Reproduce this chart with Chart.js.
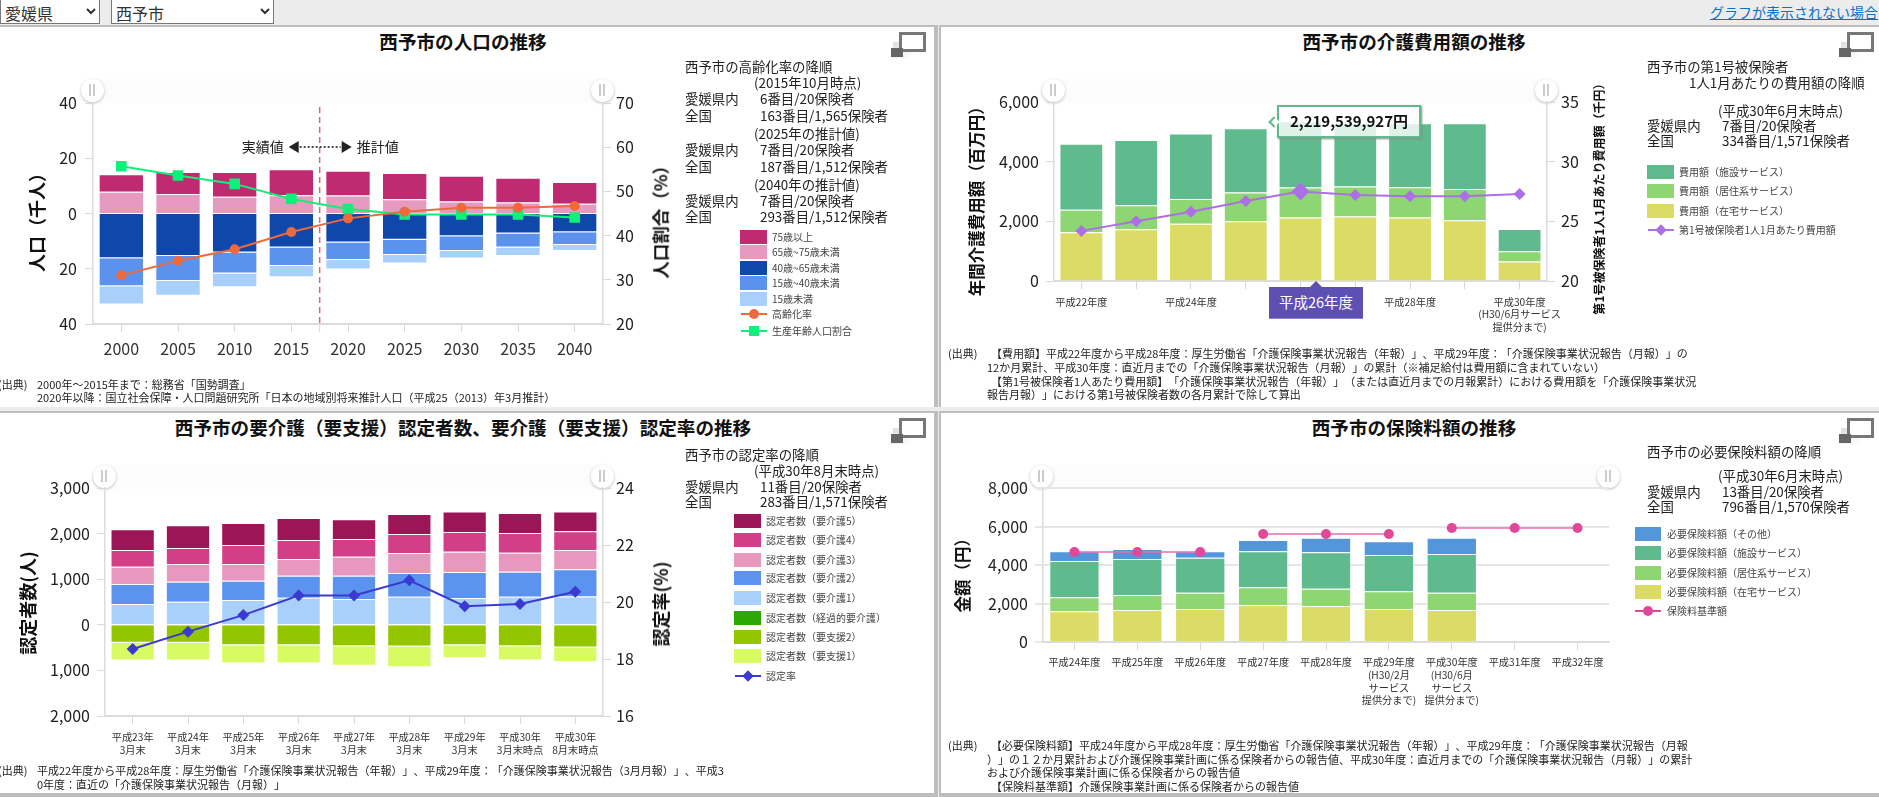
<!DOCTYPE html>
<html lang="ja">
<head>
<meta charset="utf-8">
<title>西予市</title>
<script src="https://cdn.jsdelivr.net/npm/chart.js@4"></script>
<style>
  html, body { margin: 0; padding: 0; background: #ececec; }
  body { position: relative; width: 1879px; height: 797px; overflow: hidden; color: #222; text-spacing-trim: space-all;
         font-family: "Noto Sans CJK JP", "Noto Sans", sans-serif; }
  .panel { position: absolute; background: #fff; border: 0 solid #bdbdbd; box-sizing: border-box; }
  .t { position: absolute; white-space: nowrap; line-height: 1; }
  canvas { position: absolute; }
  select { position: absolute; top: -1px; height: 25px; font: 16px "Noto Sans CJK JP", sans-serif; background: #fff;
           border: 1px solid #777; padding: 0; color: #333; }
</style>
</head>
<body>
<select style="left:0;width:100px"><option>愛媛県</option></select>
<select style="left:111px;width:163px"><option>西予市</option></select>
<script>
// chart 1: population
const popYears = ['2000', '2005', '2010', '2015', '2020', '2025', '2030', '2035', '2040'];
const pop75 = [6.3, 7.9, 8.9, 9.4, 9.0, 9.5, 9.4, 8.9, 7.9];
const pop65 = [7.9, 7.1, 6.1, 6.6, 6.5, 5.2, 4.3, 4.0, 3.5];
const pop40 = [16.2, 15.4, 14.1, 12.3, 10.5, 9.5, 8.2, 7.2, 6.8];
const pop15 = [10.1, 9.0, 7.6, 6.7, 6.3, 5.5, 5.4, 5.1, 4.6];
const pop0 = [6.6, 5.4, 5.0, 4.1, 3.5, 3.1, 2.7, 3.1, 2.2];
const agingRate = [31.0, 34.3, 36.9, 40.8, 43.9, 45.4, 46.3, 46.3, 46.7];
const workingRate = [55.7, 53.6, 51.7, 48.3, 46.0, 44.8, 44.8, 44.8, 44.1];

// chart 2: care cost
const costYears = ['平成22年度', '平成23年度', '平成24年度', '平成25年度', '平成26年度', '平成27年度', '平成28年度', '平成29年度',
  ['平成30年度', '(H30/6月サービス', '提供分まで)']];
const costHome = [1635, 1735, 1915, 2005, 2130, 2160, 2130, 2040, 650];
const costResidential = [750, 805, 830, 965, 1005, 1010, 1015, 1040, 350];
const costFacility = [2215, 2185, 2195, 2150, 2220, 2130, 2140, 2205, 745];
const costPerPerson = [24.2, 25.0, 25.8, 26.7, 27.5, 27.2, 27.1, 27.1, 27.3];

// chart 3: certification
const certYears = [['平成23年', '3月末'], ['平成24年', '3月末'], ['平成25年', '3月末'], ['平成26年', '3月末'], ['平成27年', '3月末'],
  ['平成28年', '3月末'], ['平成29年', '3月末'], ['平成30年', '3月末時点'], ['平成30年', '8月末時点']];
const care5 = [454, 498, 483, 483, 432, 439, 447, 439, 433];
const care4 = [366, 352, 418, 418, 388, 418, 433, 433, 410];
const care3 = [381, 388, 366, 366, 418, 440, 447, 417, 425];
const care2 = [440, 440, 425, 484, 513, 520, 571, 550, 593];
const care1 = [454, 505, 542, 593, 564, 615, 586, 615, 623];
const careTransitional = [0, 0, 0, 0, 0, 0, 0, 0, 0];
const support2 = [394, 394, 446, 446, 468, 476, 446, 468, 498];
const support1 = [387, 387, 402, 402, 432, 453, 290, 313, 320];
const certRate = [18.35, 18.96, 19.54, 20.23, 20.23, 20.76, 19.85, 19.93, 20.36];

// chart 4: premium
const premYears = ['平成24年度', '平成25年度', '平成26年度', '平成27年度', '平成28年度',
  ['平成29年度', '(H30/2月', 'サービス', '提供分まで)'], ['平成30年度', '(H30/6月', 'サービス', '提供分まで)'], '平成31年度', '平成32年度'];
const premHome = [1593, 1662, 1714, 1922, 1870, 1714, 1662, null, null];
const premResidential = [727, 780, 849, 918, 900, 918, 901, null, null];
const premFacility = [1888, 1870, 1818, 1870, 1888, 1887, 2008, null, null];
const premOther = [502, 519, 329, 589, 762, 710, 849, null, null];
const premBase = [4675, 4675, 4675, 5610, 5610, 5610, 5922, 5922, 5922];

const C = {
  c75: '#c02a70', c65: '#e69abf', c40: '#1047ab', c15: '#5b92ee', c0: '#a9d0fa', orange: '#ee6a3c', mint: '#0ff07a',
  facility: '#5fbb8e', residential: '#8dd672', home: '#dbdc65', purple: '#ad6fe8',
  k5: '#9c1556', k4: '#d33e88', k3: '#e897bf', k2: '#5b93ee', k1: '#a9d0fa', trans: '#2ca800', s2: '#94c600', s1: '#d8fb64', blue: '#3a3ad0',
  other: '#5496da', pink: '#e0489a'
};

Chart.defaults.font.family = '"Noto Sans CJK JP", "Noto Sans", sans-serif';
Chart.defaults.color = '#222';
Chart.defaults.animation = false;

// helpers for the page furniture
function el(css, cls) {
  const d = document.createElement('div');
  if (cls) d.className = cls;
  d.style.cssText = css;
  document.body.appendChild(d);
  return d;
}
function t(x, y, str, size, extra) {
  const d = el(`left:${x}px;top:${y - size / 2}px;font-size:${size}px;` + (extra || ''), 't');
  d.textContent = str;
  return d;
}
function title(x, y, str) { t(x, y, str, 18.6, 'font-weight:700;color:#111;transform:translateX(-50%);'); }
function vt(x, y, str, size) {
  t(x, y, str, size, 'font-weight:700;color:#111;transform:translate(-50%,0) rotate(-90deg);transform-origin:50% 50%;');
}
function icon(x, y) {
  el(`position:absolute;left:${x + 2}px;top:${y + 10}px;width:32px;height:16px;background:linear-gradient(135deg,#ddd,#fff 70%);`);
  el(`position:absolute;left:${x + 8}px;top:${y}px;width:27px;height:20px;box-sizing:border-box;border:3.5px solid #777;background:#fff;`);
  el(`position:absolute;left:${x}px;top:${y + 16}px;width:12px;height:9px;background:#666;`);
}
function handles(left, right, y) {
  el(`position:absolute;left:${left}px;top:${y - 11}px;width:${right - left}px;height:24px;background:#fcfcfc;`);
  [left, right].forEach(cx => {
    el(`position:absolute;left:${cx - 11.5}px;top:${y - 11.5}px;width:23px;height:23px;border-radius:50%;background:#fff;box-shadow:0 1px 3px #bbb;`);
    el(`position:absolute;left:${cx - 3}px;top:${y - 6}px;width:2px;height:12px;background:#ccc;`);
    el(`position:absolute;left:${cx + 1}px;top:${y - 6}px;width:2px;height:12px;background:#ccc;`);
  });
}
function swatch(x, y, w, color) {
  el(`position:absolute;left:${x}px;top:${y - 7}px;width:${w}px;height:14px;background:${color};`);
}
function lineSym(x, y, w, color, kind, r) {
  el(`position:absolute;left:${x}px;top:${y - 1}px;width:${w}px;height:2px;background:${color};`);
  let css = `position:absolute;left:${x + w / 2 - r}px;top:${y - r}px;width:${2 * r}px;height:${2 * r}px;background:${color};`;
  if (kind === 'circle') css += 'border-radius:50%;';
  if (kind === 'diamond') css += 'transform:rotate(45deg);';
  el(css);
}
function label(x, y, str) { t(x, y, str, 10, 'color:#444;'); }

function baseOptions(pad) {
  return {
    responsive: false,
    layout: { padding: pad },
    plugins: { legend: { display: false }, tooltip: { enabled: false } },
    interaction: { mode: null }
  };
}
function fixed(size) { return { afterFit: s => { if (s.isHorizontal()) s.height = size; else s.width = size; } }; }
function xScale(fontSize, padding, height, lineHeight) {
  return Object.assign({
    stacked: true,
    border: { color: '#dcdcdc', width: 2 },
    grid: { drawOnChartArea: false, offset: false, tickLength: 8, color: '#d8d8d8' },
    ticks: { autoSkip: false, maxRotation: 0, font: { size: fontSize, lineHeight: lineHeight || 1.2 }, padding: padding, color: '#333' }
  }, fixed(height));
}
function yScale(pos, min, max, step, padding, width, extra) {
  return Object.assign({
    position: pos, min: min, max: max,
    border: { color: '#dcdcdc', width: 1.5 },
    grid: { drawOnChartArea: false, tickLength: 8, color: '#d8d8d8' },
    ticks: { stepSize: step, padding: padding, font: { size: 16 }, callback: v => Math.abs(v).toLocaleString('en-US') }
  }, fixed(width), extra || {});
}
function bar(lbl, color, data) {
  return { type: 'bar', label: lbl, data: data, backgroundColor: color, borderColor: 'rgba(255,255,255,.55)', borderWidth: 1,
    barPercentage: 0.8, categoryPercentage: 1, stack: 's', order: 2 };
}
function line(lbl, color, data, style, radius, width) {
  return { type: 'line', label: lbl, data: data, yAxisID: 'y1', borderColor: color, backgroundColor: color, borderWidth: width || 2,
    pointStyle: style, pointRadius: radius, pointBorderWidth: 0, tension: 0, order: 1 };
}
function canvas(x, y, w, h) {
  const c = document.createElement('canvas');
  c.width = w; c.height = h;
  c.style.left = x + 'px'; c.style.top = y + 'px';
  document.body.appendChild(c);
  return c;
}

// panels
el('left:-4px;top:25px;width:942px;height:382px;border-width:2px 4px 0 0;', 'panel');
el('left:939px;top:25px;width:944px;height:382px;border-width:2px 0 0 2px;', 'panel');
el('left:-4px;top:411px;width:942px;height:386px;border-width:2px 4px 4px 0;', 'panel');
el('left:939px;top:411px;width:944px;height:386px;border-width:2px 0 4px 2px;', 'panel');

// header
t(1710, 12, 'グラフが表示されない場合', 14, 'color:#0b6fc8;text-decoration:underline;');

// chart 1
handles(92, 602, 90);
const splitLine = {
  id: 'splitLine',
  afterDatasetsDraw(chart) {
    const { ctx, scales, chartArea } = chart;
    const x = (scales.x.getPixelForValue(3) + scales.x.getPixelForValue(4)) / 2;
    const ay = chartArea.top + 44;
    ctx.save();
    ctx.strokeStyle = '#d8d8d8'; ctx.lineWidth = 1;
    ctx.beginPath(); ctx.moveTo(x, chartArea.bottom); ctx.lineTo(x, chartArea.bottom + 8); ctx.stroke();
    ctx.strokeStyle = '#d9687f'; ctx.lineWidth = 1.5; ctx.setLineDash([6, 4]);
    ctx.beginPath(); ctx.moveTo(x, chartArea.top + 4); ctx.lineTo(x, chartArea.bottom); ctx.stroke();
    ctx.strokeStyle = '#111'; ctx.lineWidth = 1.5; ctx.setLineDash([2, 2]);
    ctx.beginPath(); ctx.moveTo(x - 20, ay); ctx.lineTo(x + 21, ay); ctx.stroke();
    ctx.fillStyle = '#222';
    ctx.beginPath(); ctx.moveTo(x - 31, ay); ctx.lineTo(x - 21, ay - 6); ctx.lineTo(x - 21, ay + 6); ctx.fill();
    ctx.beginPath(); ctx.moveTo(x + 32, ay); ctx.lineTo(x + 22, ay - 6); ctx.lineTo(x + 22, ay + 6); ctx.fill();
    ctx.font = '14px "Noto Sans CJK JP"'; ctx.textBaseline = 'middle';
    ctx.textAlign = 'right'; ctx.fillText('実績値', x - 36, ay);
    ctx.textAlign = 'left'; ctx.fillText('推計値', x + 37, ay);
    ctx.restore();
  }
};
new Chart(canvas(0, 60, 700, 345), {
  data: {
    labels: popYears,
    datasets: [
      bar('65歳~75歳未満', C.c65, pop65),
      bar('75歳以上', C.c75, pop75),
      bar('40歳~65歳未満', C.c40, pop40.map(v => -v)),
      bar('15歳~40歳未満', C.c15, pop15.map(v => -v)),
      bar('15歳未満', C.c0, pop0.map(v => -v)),
      line('高齢化率', C.orange, agingRate, 'circle', 5),
      line('生産年齢人口割合', C.mint, workingRate, 'rect', 7.5)
    ]
  },
  options: Object.assign(baseOptions({ top: 43 }), {
    scales: {
      x: xScale(16, 7, 81),
      y: yScale('left', -40, 40, 20, 8, 93, { stacked: true }),
      y1: yScale('right', 20, 70, 10, 5, 97)
    }
  }),
  plugins: [splitLine]
});
title(463, 41, '西予市の人口の推移');
icon(891, 32);
vt(36, 218, '人口（千人）', 18);
vt(660, 218, '人口割合（%）', 17.5);
[[685, 67, '西予市の高齢化率の降順'], [754, 83, '(2015年10月時点)'],
 [685, 99, '愛媛県内'], [760, 99, '6番目/20保険者'], [685, 116, '全国'], [760, 116, '163番目/1,565保険者'], [754, 134, '(2025年の推計値)'],
 [685, 150, '愛媛県内'], [760, 150, '7番目/20保険者'], [685, 167, '全国'], [760, 167, '187番目/1,512保険者'], [754, 185, '(2040年の推計値)'],
 [685, 201, '愛媛県内'], [760, 201, '7番目/20保険者'], [685, 217, '全国'], [760, 217, '293番目/1,512保険者']
].forEach(r => t(r[0], r[1], r[2], 13.4));
[['75歳以上', C.c75, 237], ['65歳~75歳未満', C.c65, 252], ['40歳~65歳未満', C.c40, 268], ['15歳~40歳未満', C.c15, 283], ['15歳未満', C.c0, 299]
].forEach(r => { swatch(740, r[2], 27, r[1]); label(772, r[2], r[0]); });
lineSym(741, 314, 26, C.orange, 'circle', 5); label(772, 314, '高齢化率');
lineSym(741, 331, 26, C.mint, 'rect', 5); label(772, 331, '生産年齢人口割合');
t(-2, 384, '(出典)', 11); t(37, 384, '2000年～2015年まで：総務省「国勢調査」', 11);
t(37, 397, '2020年以降：国立社会保障・人口問題研究所「日本の地域別将来推計人口（平成25（2013）年3月推計）', 11);

// chart 2
handles(1053, 1546, 90);
const costX = xScale(10.2, 6.5, 124, 1.25);
costX.ticks.callback = function (v, i) { return i % 2 === 0 && i !== 4 ? this.getLabelForValue(v) : ''; };
new Chart(canvas(941, 60, 760, 345), {
  data: {
    labels: costYears,
    datasets: [
      bar('費用額（在宅サービス）', C.home, costHome),
      bar('費用額（居住系サービス）', C.residential, costResidential),
      bar('費用額（施設サービス）', C.facility, costFacility),
      line('第1号被保険者1人1月あたり費用額', C.purple, costPerPerson, 'rectRot', ctx => ctx.dataIndex === 4 ? 9 : 6)
    ]
  },
  options: Object.assign(baseOptions({ top: 42 }), {
    scales: {
      x: costX,
      y: yScale('left', 0, 6000, 2000, 7, 113, { stacked: true }),
      y1: yScale('right', 20, 35, 5, 6, 154)
    }
  })
});
title(1414, 41, '西予市の介護費用額の推移');
icon(1839, 32);
vt(976, 197, '年間介護費用額（百万円）', 16.5);
vt(1599, 196, '第1号被保険者1人1月あたり費用額（千円）', 12);
[[1647, 67, '西予市の第1号被保険者'], [1689, 83, '1人1月あたりの費用額の降順'], [1718, 111, '(平成30年6月末時点)'],
 [1647, 126, '愛媛県内'], [1722, 126, '7番目/20保険者'], [1647, 141, '全国'], [1722, 141, '334番目/1,571保険者']
].forEach(r => t(r[0], r[1], r[2], 13.4));
[['費用額（施設サービス）', C.facility, 172], ['費用額（居住系サービス）', C.residential, 191], ['費用額（在宅サービス）', C.home, 211]
].forEach(r => { swatch(1647, r[2], 27, r[1]); label(1679, r[2], r[0]); });
lineSym(1648, 230, 26, C.purple, 'diamond', 4); label(1679, 230, '第1号被保険者1人1月あたり費用額');
// pinned tooltip and axis label of the selected year
const tip = el('position:absolute;left:1277px;top:105px;width:144px;height:33px;box-sizing:border-box;border:2px solid #5fbb8e;background:rgba(255,255,255,.8);box-shadow:1px 1px 2px #888;text-align:center;line-height:28px;font-size:15px;font-weight:700;color:#111;');
tip.textContent = '2,219,539,927円';
el('position:absolute;left:1270px;top:118px;width:8px;height:8px;transform:rotate(45deg);box-sizing:border-box;border:2px solid #5fbb8e;border-width:0 0 2px 2px;background:#fff;');
el('position:absolute;left:1310px;top:281px;width:0;height:0;border:6px solid transparent;border-top:0;border-bottom:6px solid #5e4fb3;');
const yearBox = el('position:absolute;left:1269px;top:287px;width:94px;height:32px;box-sizing:border-box;background:#5e4fb3;border-bottom:1px solid #8a7fd0;color:#fff;text-align:center;line-height:30px;font-size:14.5px;');
yearBox.textContent = '平成26年度';
t(948, 353, '(出典)', 11);
t(991, 353, '【費用額】平成22年度から平成28年度：厚生労働省「介護保険事業状況報告（年報）」、平成29年度：「介護保険事業状況報告（月報）」の', 11);
t(987, 367, '12か月累計、平成30年度：直近月までの「介護保険事業状況報告（月報）」の累計（※補足給付は費用額に含まれていない）', 11);
t(991, 381, '【第1号被保険者1人あたり費用額】「介護保険事業状況報告（年報）」（または直近月までの月報累計）における費用額を「介護保険事業状況', 11);
t(987, 394, '報告月報）」における第1号被保険者数の各月累計で除して算出', 11);

// chart 3
handles(104, 602, 476);
new Chart(canvas(0, 446, 700, 345), {
  data: {
    labels: certYears,
    datasets: [
      bar('認定者数（要介護1）', C.k1, care1),
      bar('認定者数（要介護2）', C.k2, care2),
      bar('認定者数（要介護3）', C.k3, care3),
      bar('認定者数（要介護4）', C.k4, care4),
      bar('認定者数（要介護5）', C.k5, care5),
      bar('認定者数（経過的要介護）', C.trans, careTransitional.map(v => -v)),
      bar('認定者数（要支援2）', C.s2, support2.map(v => -v)),
      bar('認定者数（要支援1）', C.s1, support1.map(v => -v)),
      line('認定率', C.blue, certRate, 'rectRot', 6)
    ]
  },
  options: Object.assign(baseOptions({ top: 42 }), {
    scales: {
      x: xScale(10.2, 6.4, 75, 1.3),
      y: yScale('left', -2000, 3000, 1000, 7, 105, { stacked: true }),
      y1: yScale('right', 16, 24, 2, 5, 97)
    }
  })
});
title(463, 427, '西予市の要介護（要支援）認定者数、要介護（要支援）認定率の推移');
icon(891, 418);
vt(27, 603, '認定者数(人)', 18);
vt(660, 604, '認定率(%)', 18);
[[685, 455, '西予市の認定率の降順'], [754, 471, '(平成30年8月末時点)'],
 [685, 487, '愛媛県内'], [760, 487, '11番目/20保険者'], [685, 502, '全国'], [760, 502, '283番目/1,571保険者']
].forEach(r => t(r[0], r[1], r[2], 13.4));
[['認定者数（要介護5）', C.k5, 521], ['認定者数（要介護4）', C.k4, 540], ['認定者数（要介護3）', C.k3, 560], ['認定者数（要介護2）', C.k2, 578],
 ['認定者数（要介護1）', C.k1, 598], ['認定者数（経過的要介護）', C.trans, 618], ['認定者数（要支援2）', C.s2, 637], ['認定者数（要支援1）', C.s1, 656]
].forEach(r => { swatch(734, r[2], 27, r[1]); label(766, r[2], r[0]); });
lineSym(735, 676, 26, C.blue, 'diamond', 4); label(766, 676, '認定率');
t(-2, 770, '(出典)', 11);
t(37, 770, '平成22年度から平成28年度：厚生労働省「介護保険事業状況報告（年報）」、平成29年度：「介護保険事業状況報告（3月月報）」、平成3', 11);
t(37, 784, '0年度：直近の「介護保険事業状況報告（月報）」', 11);

// chart 4
handles(1041, 1608, 476);
const premLine = line('保険料基準額', C.pink, premBase, 'circle', 5, 1.5);
premLine.yAxisID = 'y';
premLine.stack = 'line';
premLine.segment = { borderColor: ctx => ctx.p0.parsed.y === ctx.p1.parsed.y ? '#e96bb0' : 'transparent' };
const premY = yScale('left', 0, 8000, 2000, 7, 102, { stacked: true });
premY.grid = { drawOnChartArea: true, tickLength: 8, color: '#e6e6e6', lineWidth: 2 };
new Chart(canvas(941, 446, 760, 345), {
  data: {
    labels: premYears,
    datasets: [
      bar('必要保険料額（在宅サービス）', C.home, premHome),
      bar('必要保険料額（居住系サービス）', C.residential, premResidential),
      bar('必要保険料額（施設サービス）', C.facility, premFacility),
      bar('必要保険料額（その他）', C.other, premOther),
      premLine
    ]
  },
  options: Object.assign(baseOptions({ top: 42, right: 92 }), {
    scales: { x: xScale(10.2, 6, 149, 1.25), y: premY }
  })
});
title(1414, 427, '西予市の保険料額の推移');
icon(1839, 418);
vt(962, 571, '金額（円）', 16.5);
[[1647, 452, '西予市の必要保険料額の降順'], [1718, 476, '(平成30年6月末時点)'],
 [1647, 492, '愛媛県内'], [1722, 492, '13番目/20保険者'], [1647, 507, '全国'], [1722, 507, '796番目/1,570保険者']
].forEach(r => t(r[0], r[1], r[2], 13.4));
[['必要保険料額（その他）', C.other, 534], ['必要保険料額（施設サービス）', C.facility, 553], ['必要保険料額（居住系サービス）', C.residential, 573], ['必要保険料額（在宅サービス）', C.home, 592]
].forEach(r => { swatch(1635, r[2], 26, r[1]); label(1667, r[2], r[0]); });
lineSym(1635, 611, 26, C.pink, 'circle', 5); label(1667, 611, '保険料基準額');
t(948, 745, '(出典)', 11);
t(991, 745, '【必要保険料額】平成24年度から平成28年度：厚生労働省「介護保険事業状況報告（年報）」、平成29年度：「介護保険事業状況報告（月報', 11);
t(987, 759, '）」の１２か月累計および介護保険事業計画に係る保険者からの報告値、平成30年度：直近月までの「介護保険事業状況報告（月報）」の累計', 11);
t(987, 772, 'および介護保険事業計画に係る保険者からの報告値', 11);
t(991, 786, '【保険料基準額】介護保険事業計画に係る保険者からの報告値', 11);
</script>
</body>
</html>
